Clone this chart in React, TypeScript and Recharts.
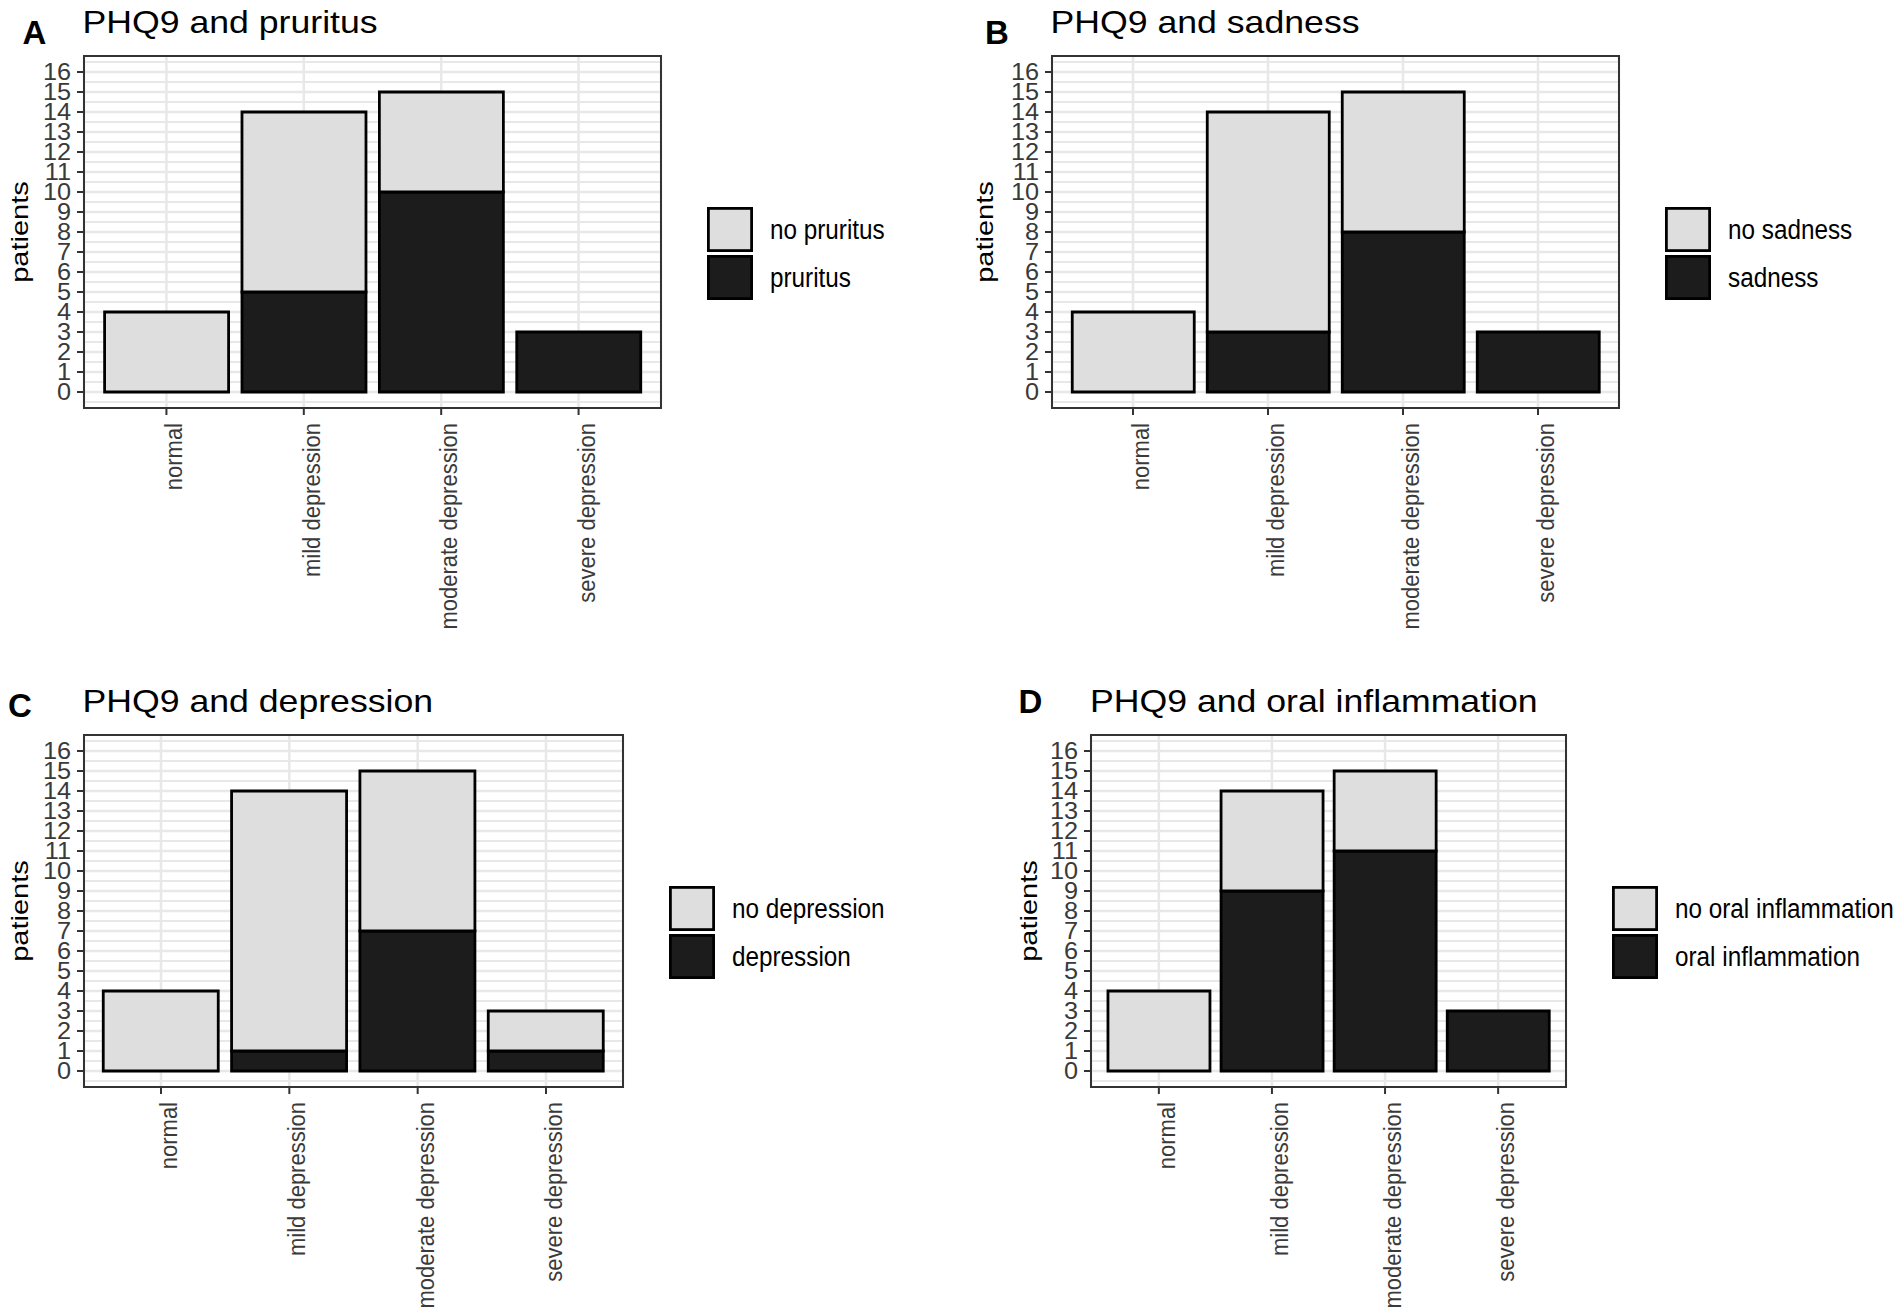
import React from 'react';
import { BarChart, Bar, XAxis, YAxis, CartesianGrid } from 'recharts';

// ---------- data ----------
const CATEGORIES = ['normal', 'mild depression', 'moderate depression', 'severe depression'];
const Y_TICKS = [0, 1, 2, 3, 4, 5, 6, 7, 8, 9, 10, 11, 12, 13, 14, 15, 16];
const MINOR_GRID = [-0.5, 0.5, 1.5, 2.5, 3.5, 4.5, 5.5, 6.5, 7.5, 8.5, 9.5, 10.5, 11.5, 12.5, 13.5, 14.5, 15.5, 16.5];
const Y_DOMAIN = [-0.8, 16.8];

const PANEL_TAGS = ['A', 'B', 'C', 'D'];
const PANEL_TITLES = ['PHQ9 and pruritus', 'PHQ9 and sadness', 'PHQ9 and depression', 'PHQ9 and oral inflammation'];
const NO_LABELS = ['no pruritus', 'no sadness', 'no depression', 'no oral inflammation'];
const YES_LABELS = ['pruritus', 'sadness', 'depression', 'oral inflammation'];
const Y_LABEL = 'patients';

const PRURITUS_YES = [0, 5, 10, 3];
const PRURITUS_NO = [4, 9, 5, 0];
const SADNESS_YES = [0, 3, 8, 3];
const SADNESS_NO = [4, 11, 7, 0];
const DEPRESSION_YES = [0, 1, 7, 1];
const DEPRESSION_NO = [4, 13, 8, 2];
const ORAL_YES = [0, 9, 11, 3];
const ORAL_NO = [4, 5, 4, 0];

const SERIES_YES = [PRURITUS_YES, SADNESS_YES, DEPRESSION_YES, ORAL_YES];
const SERIES_NO = [PRURITUS_NO, SADNESS_NO, DEPRESSION_NO, ORAL_NO];

// ---------- styling / layout ----------
const FONT = '"Liberation Sans", Arial, Helvetica, sans-serif';
const LIGHT = '#DEDEDE';
const DARK = '#1C1C1C';
const GRID = '#E8E8E8';
const TICK_COLOR = '#3A3A3A';

const LAYOUT = [
  { left: 84, top: 56, width: 577, height: 352, tagX: 22.5, tagY: 44, titleX: 82.5, titleY: 33, ylabX: 27.5 },
  { left: 1052, top: 56, width: 567, height: 352, tagX: 985, tagY: 44, titleX: 1050.5, titleY: 33, ylabX: 993 },
  { left: 84, top: 735, width: 539, height: 352, tagX: 8, tagY: 717, titleX: 82.5, titleY: 711.5, ylabX: 28 },
  { left: 1091, top: 735, width: 475, height: 352, tagX: 1018.5, tagY: 713, titleX: 1090, titleY: 711.5, ylabX: 1036.5 },
];

const YW = 80;
const MT = 10;
const MR = 10;
const XH = 240;

const XTick = (props: any) => {
  const { x, y, payload } = props;
  return (
    <text
      transform={`translate(${x + 16},${y}) scale(1.12,1) rotate(-90)`}
      textAnchor="end"
      fontSize={22}
      fontFamily={FONT}
      fill={TICK_COLOR}
    >
      {payload.value}
    </text>
  );
};

const YTick = (props: any) => {
  const { x, y, payload } = props;
  return (
    <text
      transform={`translate(${x},${y}) scale(1.1,1)`}
      textAnchor="end"
      dominantBaseline="central"
      fontSize={23}
      fontFamily={FONT}
      fill={TICK_COLOR}
    >
      {payload.value}
    </text>
  );
};

function Panel({ idx }: { idx: number }) {
  const L = LAYOUT[idx];
  const data = CATEGORIES.map((c, i) => ({
    category: c,
    yes: SERIES_YES[idx][i],
    no: SERIES_NO[idx][i],
  }));
  const pad = (L.width / 4.2) * 0.1;
  return (
    <div style={{ position: 'absolute', left: L.left - YW, top: L.top - MT }}>
      <BarChart
        width={YW + L.width + MR}
        height={MT + L.height + XH}
        data={data}
        margin={{ top: MT, right: MR, left: 0, bottom: 0 }}
        barCategoryGap="5%"
      >
        <CartesianGrid horizontalValues={MINOR_GRID} vertical={false} stroke={GRID} strokeWidth={1.9} />
        <CartesianGrid horizontalValues={Y_TICKS} stroke={GRID} strokeWidth={2.5} />
        <XAxis
          dataKey="category"
          type="category"
          padding={{ left: pad, right: pad }}
          height={XH}
          interval={0}
          tickSize={7}
          tickMargin={8}
          tickLine={{ stroke: '#333333', strokeWidth: 2 }}
          axisLine={false}
          tick={(p: any) => <XTick {...p} />}
        />
        <YAxis
          type="number"
          domain={Y_DOMAIN}
          ticks={Y_TICKS}
          interval={0}
          allowDataOverflow
          width={YW}
          tickSize={7}
          tickMargin={6}
          tickLine={{ stroke: '#333333', strokeWidth: 2 }}
          axisLine={false}
          tick={(p: any) => <YTick {...p} />}
        />
        <Bar dataKey="yes" stackId="s" fill={DARK} stroke="#000000" strokeWidth={2.8} isAnimationActive={false} />
        <Bar dataKey="no" stackId="s" fill={LIGHT} stroke="#000000" strokeWidth={2.8} isAnimationActive={false} />
      </BarChart>
    </div>
  );
}

function Overlay() {
  return (
    <svg
      width={1902}
      height={1314}
      style={{ position: 'absolute', left: 0, top: 0, pointerEvents: 'none' }}
    >
      {LAYOUT.map((L, i) => {
        const keyX = L.left + L.width + 46;
        const keyTop = L.top + 151;
        const textX = keyX + 63;
        return (
          <g key={i} fontFamily={FONT}>
            <rect x={L.left} y={L.top} width={L.width} height={L.height} fill="none" stroke="#333333" strokeWidth={2} />
            <text x={L.tagX} y={L.tagY} fontSize={33} fontWeight="bold" fill="#000">
              {PANEL_TAGS[i]}
            </text>
            <text transform={`translate(${L.titleX},${L.titleY}) scale(1.15,1)`} fontSize={31} fill="#000">
              {PANEL_TITLES[i]}
            </text>
            <text
              transform={`translate(${L.ylabX},${L.top + L.height / 2}) scale(0.85,1) rotate(-90)`}
              textAnchor="middle"
              fontSize={29}
              fill="#000"
            >
              {Y_LABEL}
            </text>
            <rect x={keyX + 1.4} y={keyTop + 1.4} width={43.2} height={42.2} fill={LIGHT} stroke="#000" strokeWidth={2.8} />
            <rect x={keyX + 1.4} y={keyTop + 49.4} width={43.2} height={42.2} fill={DARK} stroke="#000" strokeWidth={2.8} />
            <text transform={`translate(${textX},${keyTop + 32}) scale(0.9,1)`} fontSize={27} fill="#000">
              {NO_LABELS[i]}
            </text>
            <text transform={`translate(${textX},${keyTop + 79.5}) scale(0.9,1)`} fontSize={27} fill="#000">
              {YES_LABELS[i]}
            </text>
          </g>
        );
      })}
    </svg>
  );
}

export default function App() {
  return (
    <div
      style={{
        position: 'absolute',
        left: 0,
        top: 0,
        width: 1902,
        height: 1314,
        background: '#ffffff',
        overflow: 'hidden',
      }}
    >
      {LAYOUT.map((_, i) => (
        <Panel key={i} idx={i} />
      ))}
      <Overlay />
    </div>
  );
}
